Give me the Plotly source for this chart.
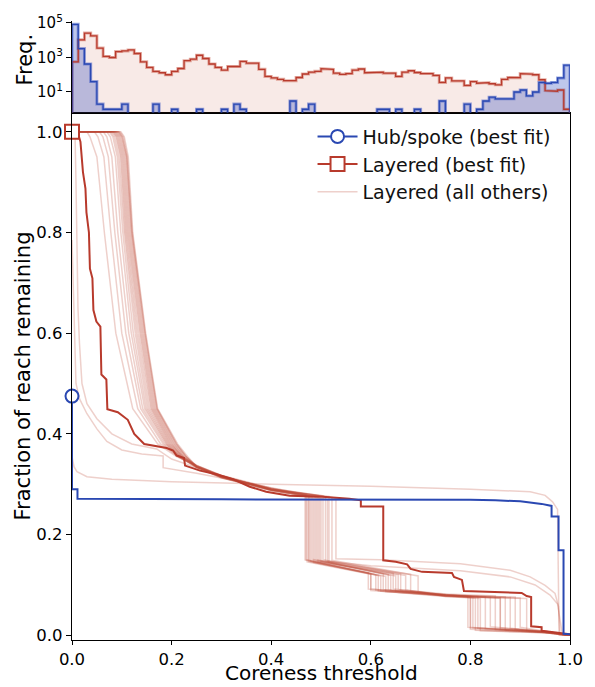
import plotly.graph_objects as go

# ---------------- data ----------------
n_bins = 80
layered_counts = [560, 10500, 26000, 18000, 3500, 1150, 1000, 2200, 2400, 2750,
                  1700, 560, 265, 155, 130, 100, 155, 230, 650, 800,
                  1350, 870, 420, 265, 185, 300, 300, 590, 470, 470,
                  205, 80, 65, 54, 45, 45, 69, 110, 140, 158,
                  225, 205, 123, 105, 117, 185, 215, 130, 140, 140,
                  123, 123, 80, 140, 170, 135, 117, 117, 91, 36,
                  65, 44, 44, 24, 40, 32, 35, 30, 26, 54,
                  69, 68, 117, 110, 100, 51, 12, 11, 13, 1]
hub_counts = [84000, 3300, 420, 40, 2, 1, 1, 1, 2, 0,
              0, 0, 0, 2, 0, 0, 1, 0, 0, 0,
              1, 0, 0, 0, 1, 0, 2, 1, 0, 0,
              0, 0, 0, 0, 0, 3, 0, 1, 2, 0,
              0, 0, 0, 0, 0, 0, 0, 0, 0, 1,
              1, 0, 1, 0, 0, 1, 0, 0, 0, 3,
              0, 0, 0, 2, 0, 1, 3, 5, 4, 4,
              4, 10, 13, 6, 10, 36, 32, 36, 65, 360]

hub_x = [0, 0, 0.011, 0.011, 0.3, 0.6, 0.8, 0.85, 0.9, 0.943, 0.957, 0.963, 0.963,
         0.977, 0.977, 0.987, 0.987, 1.0]
hub_y = [0.475, 0.29, 0.29, 0.271, 0.270, 0.270, 0.269, 0.268, 0.266, 0.261, 0.258, 0.257, 0.236,
         0.236, 0.169, 0.169, 0.003, 0.002]

best_x = [0, 0.012, 0.014, 0.017, 0.022, 0.027, 0.029, 0.034, 0.036, 0.041, 0.043, 0.049,
          0.057, 0.059, 0.069, 0.071, 0.092, 0.112, 0.125, 0.145, 0.19, 0.203, 0.21, 0.225,
          0.227, 0.257, 0.29, 0.323, 0.357, 0.39, 0.437, 0.503, 0.557, 0.58, 0.58, 0.625,
          0.625, 0.65, 0.673, 0.68, 0.703, 0.763, 0.767, 0.783, 0.787, 0.837, 0.903, 0.913,
          0.922, 0.922, 0.943, 0.943, 0.97, 1.0]
best_y = [1.0, 1.0, 0.99, 0.98, 0.92, 0.887, 0.84, 0.80, 0.728, 0.709, 0.646, 0.623,
          0.613, 0.518, 0.508, 0.449, 0.443, 0.428, 0.40, 0.38, 0.372, 0.367, 0.357, 0.352,
          0.337, 0.327, 0.32, 0.31, 0.295, 0.285, 0.277, 0.275, 0.271, 0.268, 0.256, 0.256,
          0.149, 0.146, 0.141, 0.132, 0.126, 0.124, 0.116, 0.11, 0.088, 0.086, 0.084, 0.078,
          0.076, 0.018, 0.016, 0.009, 0.005, 0.002]

others_x = [
    [0, 0.030, 0.036, 0.050, 0.065, 0.088, 0.122, 0.172, 0.210, 0.25, 0.30, 0.40, 0.468, 0.468, 0.595, 0.595, 0.75, 0.795, 0.795, 0.95, 1.0],
    [0, 0.045, 0.052, 0.064, 0.078, 0.100, 0.132, 0.178, 0.212, 0.25, 0.30, 0.40, 0.472, 0.472, 0.600, 0.600, 0.75, 0.800, 0.800, 0.95, 1.0],
    [0, 0.055, 0.062, 0.073, 0.086, 0.108, 0.138, 0.183, 0.214, 0.25, 0.30, 0.40, 0.476, 0.476, 0.610, 0.610, 0.75, 0.805, 0.805, 0.95, 1.0],
    [0, 0.063, 0.070, 0.080, 0.092, 0.114, 0.142, 0.186, 0.215, 0.25, 0.30, 0.40, 0.479, 0.479, 0.620, 0.620, 0.75, 0.810, 0.810, 0.95, 1.0],
    [0, 0.070, 0.077, 0.087, 0.098, 0.119, 0.146, 0.189, 0.216, 0.25, 0.30, 0.40, 0.482, 0.482, 0.625, 0.625, 0.75, 0.815, 0.815, 0.95, 1.0],
    [0, 0.075, 0.082, 0.091, 0.102, 0.123, 0.149, 0.191, 0.218, 0.25, 0.30, 0.40, 0.485, 0.485, 0.630, 0.630, 0.75, 0.820, 0.820, 0.95, 1.0],
    [0, 0.078, 0.085, 0.094, 0.105, 0.127, 0.152, 0.193, 0.218, 0.25, 0.30, 0.40, 0.488, 0.488, 0.635, 0.635, 0.75, 0.830, 0.830, 0.95, 1.0],
    [0, 0.081, 0.088, 0.097, 0.107, 0.130, 0.155, 0.195, 0.220, 0.25, 0.30, 0.40, 0.491, 0.491, 0.640, 0.640, 0.75, 0.840, 0.840, 0.95, 1.0],
    [0, 0.083, 0.090, 0.099, 0.109, 0.133, 0.158, 0.197, 0.220, 0.25, 0.30, 0.40, 0.494, 0.494, 0.645, 0.645, 0.75, 0.850, 0.850, 0.95, 1.0],
    [0, 0.085, 0.092, 0.101, 0.111, 0.136, 0.160, 0.199, 0.222, 0.25, 0.30, 0.40, 0.497, 0.497, 0.650, 0.650, 0.75, 0.860, 0.860, 0.95, 1.0],
    [0, 0.087, 0.094, 0.103, 0.113, 0.138, 0.162, 0.201, 0.222, 0.25, 0.30, 0.40, 0.500, 0.500, 0.655, 0.655, 0.75, 0.870, 0.870, 0.95, 1.0],
    [0, 0.089, 0.096, 0.105, 0.115, 0.140, 0.164, 0.203, 0.224, 0.25, 0.30, 0.40, 0.504, 0.504, 0.660, 0.660, 0.75, 0.880, 0.880, 0.95, 1.0],
    [0, 0.091, 0.098, 0.107, 0.117, 0.142, 0.166, 0.205, 0.225, 0.25, 0.30, 0.40, 0.509, 0.509, 0.670, 0.670, 0.75, 0.890, 0.890, 0.95, 1.0],
    [0, 0.093, 0.100, 0.109, 0.119, 0.144, 0.168, 0.207, 0.226, 0.25, 0.30, 0.40, 0.516, 0.516, 0.680, 0.680, 0.75, 0.900, 0.900, 0.95, 1.0],
    [0, 0.098, 0.105, 0.113, 0.122, 0.148, 0.172, 0.212, 0.232, 0.25, 0.30, 0.40, 0.522, 0.522, 0.695, 0.695, 0.75, 0.913, 0.913, 0.95, 1.0],
    [0, 0.094, 0.101, 0.110, 0.120, 0.146, 0.170, 0.209, 0.228, 0.25, 0.30, 0.40, 0.530, 0.530, 0.62, 0.78, 0.88, 0.92, 0.95, 0.97, 0.977, 0.98, 1.0],
    [0, 0.096, 0.103, 0.111, 0.121, 0.147, 0.171, 0.210, 0.230, 0.25, 0.30, 0.40, 0.513, 0.513, 0.60, 0.78, 0.88, 0.93, 0.96, 0.975, 0.985, 1.0],
    [0, 0.002, 0.004, 0.006, 0.008, 0.015, 0.03, 0.05, 0.07, 0.10, 0.14, 0.183, 0.183, 0.25, 0.30, 0.40, 0.47, 0.47, 0.60, 0.60, 0.75, 0.80, 0.80, 0.95, 1.0],
    [0, 0.004, 0.01, 0.03, 0.08, 0.2, 0.4, 0.6, 0.8, 0.92, 0.95, 0.965, 0.975, 0.978, 1.0],
    [0, 0.006, 0.008, 0.010, 0.012, 0.015, 0.020, 0.030, 0.050, 0.080, 0.120, 0.170, 0.200, 0.25, 0.30, 0.40, 0.475, 0.475, 0.615, 0.615, 0.75, 0.86, 0.86, 0.95, 1.0],
]
others_y = [
    [1, 1, 0.99, 0.95, 0.80, 0.60, 0.45, 0.38, 0.355, 0.337, 0.318, 0.292, 0.278, 0.150, 0.124, 0.092, 0.081, 0.077, 0.016, 0.008, 0.0],
    [1, 1, 0.99, 0.95, 0.80, 0.60, 0.45, 0.38, 0.356, 0.334, 0.314, 0.288, 0.275, 0.146, 0.121, 0.089, 0.079, 0.075, 0.012, 0.006, 0.0],
    [1, 1, 0.99, 0.95, 0.80, 0.60, 0.45, 0.38, 0.354, 0.336, 0.316, 0.290, 0.277, 0.149, 0.120, 0.090, 0.080, 0.076, 0.015, 0.007, 0.0],
    [1, 1, 0.99, 0.95, 0.80, 0.60, 0.45, 0.38, 0.357, 0.338, 0.317, 0.289, 0.274, 0.147, 0.118, 0.088, 0.078, 0.074, 0.010, 0.005, 0.0],
    [1, 1, 0.99, 0.95, 0.80, 0.60, 0.45, 0.38, 0.355, 0.335, 0.315, 0.291, 0.276, 0.151, 0.122, 0.091, 0.081, 0.077, 0.014, 0.007, 0.0],
    [1, 1, 0.99, 0.95, 0.80, 0.60, 0.45, 0.38, 0.353, 0.333, 0.313, 0.287, 0.273, 0.145, 0.117, 0.087, 0.077, 0.073, 0.009, 0.005, 0.0],
    [1, 1, 0.99, 0.95, 0.80, 0.60, 0.45, 0.38, 0.356, 0.337, 0.316, 0.290, 0.277, 0.148, 0.121, 0.090, 0.080, 0.076, 0.013, 0.006, 0.0],
    [1, 1, 0.99, 0.95, 0.80, 0.60, 0.45, 0.38, 0.354, 0.334, 0.314, 0.288, 0.275, 0.150, 0.119, 0.089, 0.079, 0.075, 0.017, 0.008, 0.0],
    [1, 1, 0.99, 0.95, 0.80, 0.60, 0.45, 0.38, 0.357, 0.336, 0.317, 0.292, 0.278, 0.146, 0.123, 0.092, 0.082, 0.078, 0.011, 0.006, 0.0],
    [1, 1, 0.99, 0.95, 0.80, 0.60, 0.45, 0.38, 0.355, 0.335, 0.315, 0.289, 0.274, 0.149, 0.118, 0.088, 0.078, 0.074, 0.015, 0.007, 0.0],
    [1, 1, 0.99, 0.95, 0.80, 0.60, 0.45, 0.38, 0.353, 0.333, 0.313, 0.288, 0.276, 0.147, 0.120, 0.091, 0.080, 0.076, 0.010, 0.005, 0.0],
    [1, 1, 0.99, 0.95, 0.80, 0.60, 0.45, 0.38, 0.356, 0.336, 0.316, 0.291, 0.277, 0.150, 0.122, 0.089, 0.079, 0.075, 0.014, 0.007, 0.0],
    [1, 1, 0.99, 0.95, 0.80, 0.60, 0.45, 0.38, 0.354, 0.334, 0.314, 0.290, 0.275, 0.148, 0.119, 0.090, 0.080, 0.076, 0.012, 0.006, 0.0],
    [1, 1, 0.99, 0.95, 0.80, 0.60, 0.45, 0.38, 0.357, 0.337, 0.317, 0.289, 0.276, 0.146, 0.121, 0.088, 0.078, 0.074, 0.016, 0.008, 0.0],
    [1, 1, 0.99, 0.95, 0.80, 0.60, 0.45, 0.38, 0.355, 0.335, 0.315, 0.290, 0.274, 0.149, 0.118, 0.087, 0.077, 0.073, 0.010, 0.005, 0.0],
    [1, 1, 0.99, 0.95, 0.80, 0.60, 0.45, 0.38, 0.356, 0.335, 0.316, 0.290, 0.272, 0.152, 0.150, 0.142, 0.129, 0.116, 0.099, 0.083, 0.057, 0.0, 0.0],
    [1, 1, 0.99, 0.95, 0.80, 0.60, 0.45, 0.38, 0.354, 0.334, 0.314, 0.288, 0.270, 0.147, 0.138, 0.128, 0.116, 0.100, 0.080, 0.062, 0.0, 0.0],
    [0.785, 0.72, 0.62, 0.55, 0.50, 0.47, 0.44, 0.41, 0.385, 0.368, 0.36, 0.356, 0.333, 0.322, 0.312, 0.293, 0.28, 0.15, 0.123, 0.092, 0.08, 0.077, 0.015, 0.007, 0.0],
    [0.355, 0.335, 0.325, 0.315, 0.31, 0.305, 0.30, 0.296, 0.29, 0.285, 0.278, 0.265, 0.25, 0.0, 0.0],
    [1.0, 1.0, 0.90, 0.75, 0.65, 0.58, 0.50, 0.46, 0.43, 0.40, 0.38, 0.37, 0.35, 0.333, 0.316, 0.289, 0.276, 0.147, 0.119, 0.088, 0.079, 0.074, 0.011, 0.006, 0.0],
]

x_ticks = [0.0, 0.2, 0.4, 0.6, 0.8, 1.0]
y_ticks = [0.0, 0.2, 0.4, 0.6, 0.8, 1.0]
freq_ticks = [10, 1000, 100000]
freq_labels = ["10<sup>1</sup>", "10<sup>3</sup>", "10<sup>5</sup>"]

# ---------------- styles ----------------
BLUE = "#2a48b2"
RED = "#b83a2c"
LIGHT = "rgba(190, 75, 55, 0.26)"
FONT = "DejaVu Sans"

fig = go.Figure()

# histogram (step polygons built from counts)
edges = [i / n_bins for i in range(n_bins + 1)]
FLOOR = 0.3


def step_path(counts):
    xs, ys = [0.0], [FLOOR]
    for i, c in enumerate(counts):
        v = c if c > 0 else FLOOR
        xs += [edges[i], edges[i + 1]]
        ys += [v, v]
    xs.append(1.0)
    ys.append(FLOOR)
    return xs, ys


lx, ly = step_path(layered_counts)
hx, hy = step_path(hub_counts)
fig.add_trace(go.Scatter(x=lx, y=ly, xaxis="x2", yaxis="y2", mode="lines", fill="toself",
                         fillcolor="rgba(200, 80, 60, 0.12)",
                         line=dict(color="rgba(200, 80, 60, 0.45)", width=3),
                         showlegend=False, hoverinfo="skip"))
fig.add_trace(go.Scatter(x=hx, y=hy, xaxis="x2", yaxis="y2", mode="lines", fill="toself",
                         fillcolor="rgba(40, 70, 190, 0.30)",
                         line=dict(color="rgba(40, 70, 190, 0.45)", width=3),
                         showlegend=False, hoverinfo="skip"))
fig.add_trace(go.Scatter(x=lx, y=ly, xaxis="x2", yaxis="y2", mode="lines",
                         line=dict(color=RED, width=1.3), showlegend=False, hoverinfo="skip"))
fig.add_trace(go.Scatter(x=hx, y=hy, xaxis="x2", yaxis="y2", mode="lines",
                         line=dict(color=BLUE, width=1.3), showlegend=False, hoverinfo="skip"))

# main panel: layered (all others)
for i, (ox, oy) in enumerate(zip(others_x, others_y)):
    fig.add_trace(go.Scatter(x=ox, y=oy, mode="lines", line=dict(color=LIGHT, width=1.5),
                             name="Layered (all others)",
                             showlegend=(i == 0), legendrank=3, hoverinfo="skip"))

# best fits
fig.add_trace(go.Scatter(x=best_x, y=best_y, mode="lines", line=dict(color=RED, width=2),
                         showlegend=False, hoverinfo="skip"))
fig.add_trace(go.Scatter(x=hub_x, y=hub_y, mode="lines", line=dict(color=BLUE, width=2),
                         showlegend=False, hoverinfo="skip"))
fig.add_trace(go.Scatter(x=best_x[:1], y=best_y[:1], mode="markers", cliponaxis=False,
                         marker=dict(symbol="square", size=14, color="white",
                                     line=dict(color=RED, width=2)),
                         showlegend=False, hoverinfo="skip"))
fig.add_trace(go.Scatter(x=hub_x[:1], y=hub_y[:1], mode="markers", cliponaxis=False,
                         marker=dict(symbol="circle", size=13, color="white",
                                     line=dict(color=BLUE, width=2)),
                         showlegend=False, hoverinfo="skip"))

# legend entries
fig.add_trace(go.Scatter(x=[None], y=[None], mode="lines+markers", name="Hub/spoke (best fit)",
                         line=dict(color=BLUE, width=2), legendrank=1,
                         marker=dict(symbol="circle", size=13, color="white",
                                     line=dict(color=BLUE, width=2))))
fig.add_trace(go.Scatter(x=[None], y=[None], mode="lines+markers", name="Layered (best fit)",
                         line=dict(color=RED, width=2), legendrank=2,
                         marker=dict(symbol="square", size=14, color="white",
                                     line=dict(color=RED, width=2))))

H_MAIN = 530 / 622
axis_common = dict(showgrid=False, zeroline=False, linecolor="black", linewidth=1.3,
                   tickcolor="black", tickwidth=1.2,
                   tickfont=dict(family=FONT, size=16.5, color="black"))

fig.update_layout(
    width=595, height=687,
    margin=dict(l=72, r=23, t=18, b=47),
    paper_bgcolor="white", plot_bgcolor="white",
    font=dict(family=FONT, color="black"),
    xaxis=dict(domain=[0, 1], range=[0, 1], anchor="y", showline=True, mirror=True,
               ticks="outside", ticklen=4, tickvals=x_ticks,
               ticktext=[f"{v:.1f}" for v in x_ticks], **axis_common),
    yaxis=dict(domain=[0, H_MAIN], range=[-0.0093, 1.0381], anchor="x", showline=True,
               mirror=True, ticks="outside", ticklen=5, tickvals=y_ticks,
               ticktext=[f"{v:.1f}" for v in y_ticks], **axis_common),
    xaxis2=dict(domain=[0, 1], range=[0, 1], anchor="y2", showline=True, ticks="",
                showticklabels=False, showgrid=False, zeroline=False,
                linecolor="black", linewidth=1.3),
    yaxis2=dict(domain=[H_MAIN, 1], type="log", range=[-0.193, 5.115], anchor="x2",
                showline=True, ticks="outside", tickvals=freq_ticks, ticktext=freq_labels,
                showgrid=False, zeroline=False, linecolor="black", linewidth=1.3,
                tickcolor="black", ticklen=5, tickwidth=1.2,
                tickfont=dict(family=FONT, size=15, color="black")),
    legend=dict(x=0.483, y=0.844, xanchor="left", yanchor="top",
                font=dict(family=FONT, size=19, color="#111"), tracegroupgap=0,
                bgcolor="rgba(255,255,255,0)", itemwidth=40),
    annotations=[
        dict(text="Coreness threshold", xref="paper", yref="paper", x=0.5, y=-47 / 622,
             xanchor="center", yanchor="bottom", showarrow=False,
             font=dict(family=FONT, size=20, color="black")),
        dict(text="Fraction of reach remaining", xref="paper", yref="paper",
             x=-49 / 500, y=H_MAIN / 2, xanchor="center", yanchor="middle", textangle=-90,
             showarrow=False, font=dict(family=FONT, size=21, color="black")),
        dict(text="Freq.", xref="paper", yref="paper", x=-47 / 500, y=(H_MAIN + 1) / 2 + 0.012,
             xanchor="center", yanchor="middle", textangle=-90, showarrow=False,
             font=dict(family=FONT, size=21, color="black")),
    ],
)

fig.write_html("out.html", config={"displayModeBar": False},
               post_script="document.body.style.margin='0';document.body.style.padding='0';")
